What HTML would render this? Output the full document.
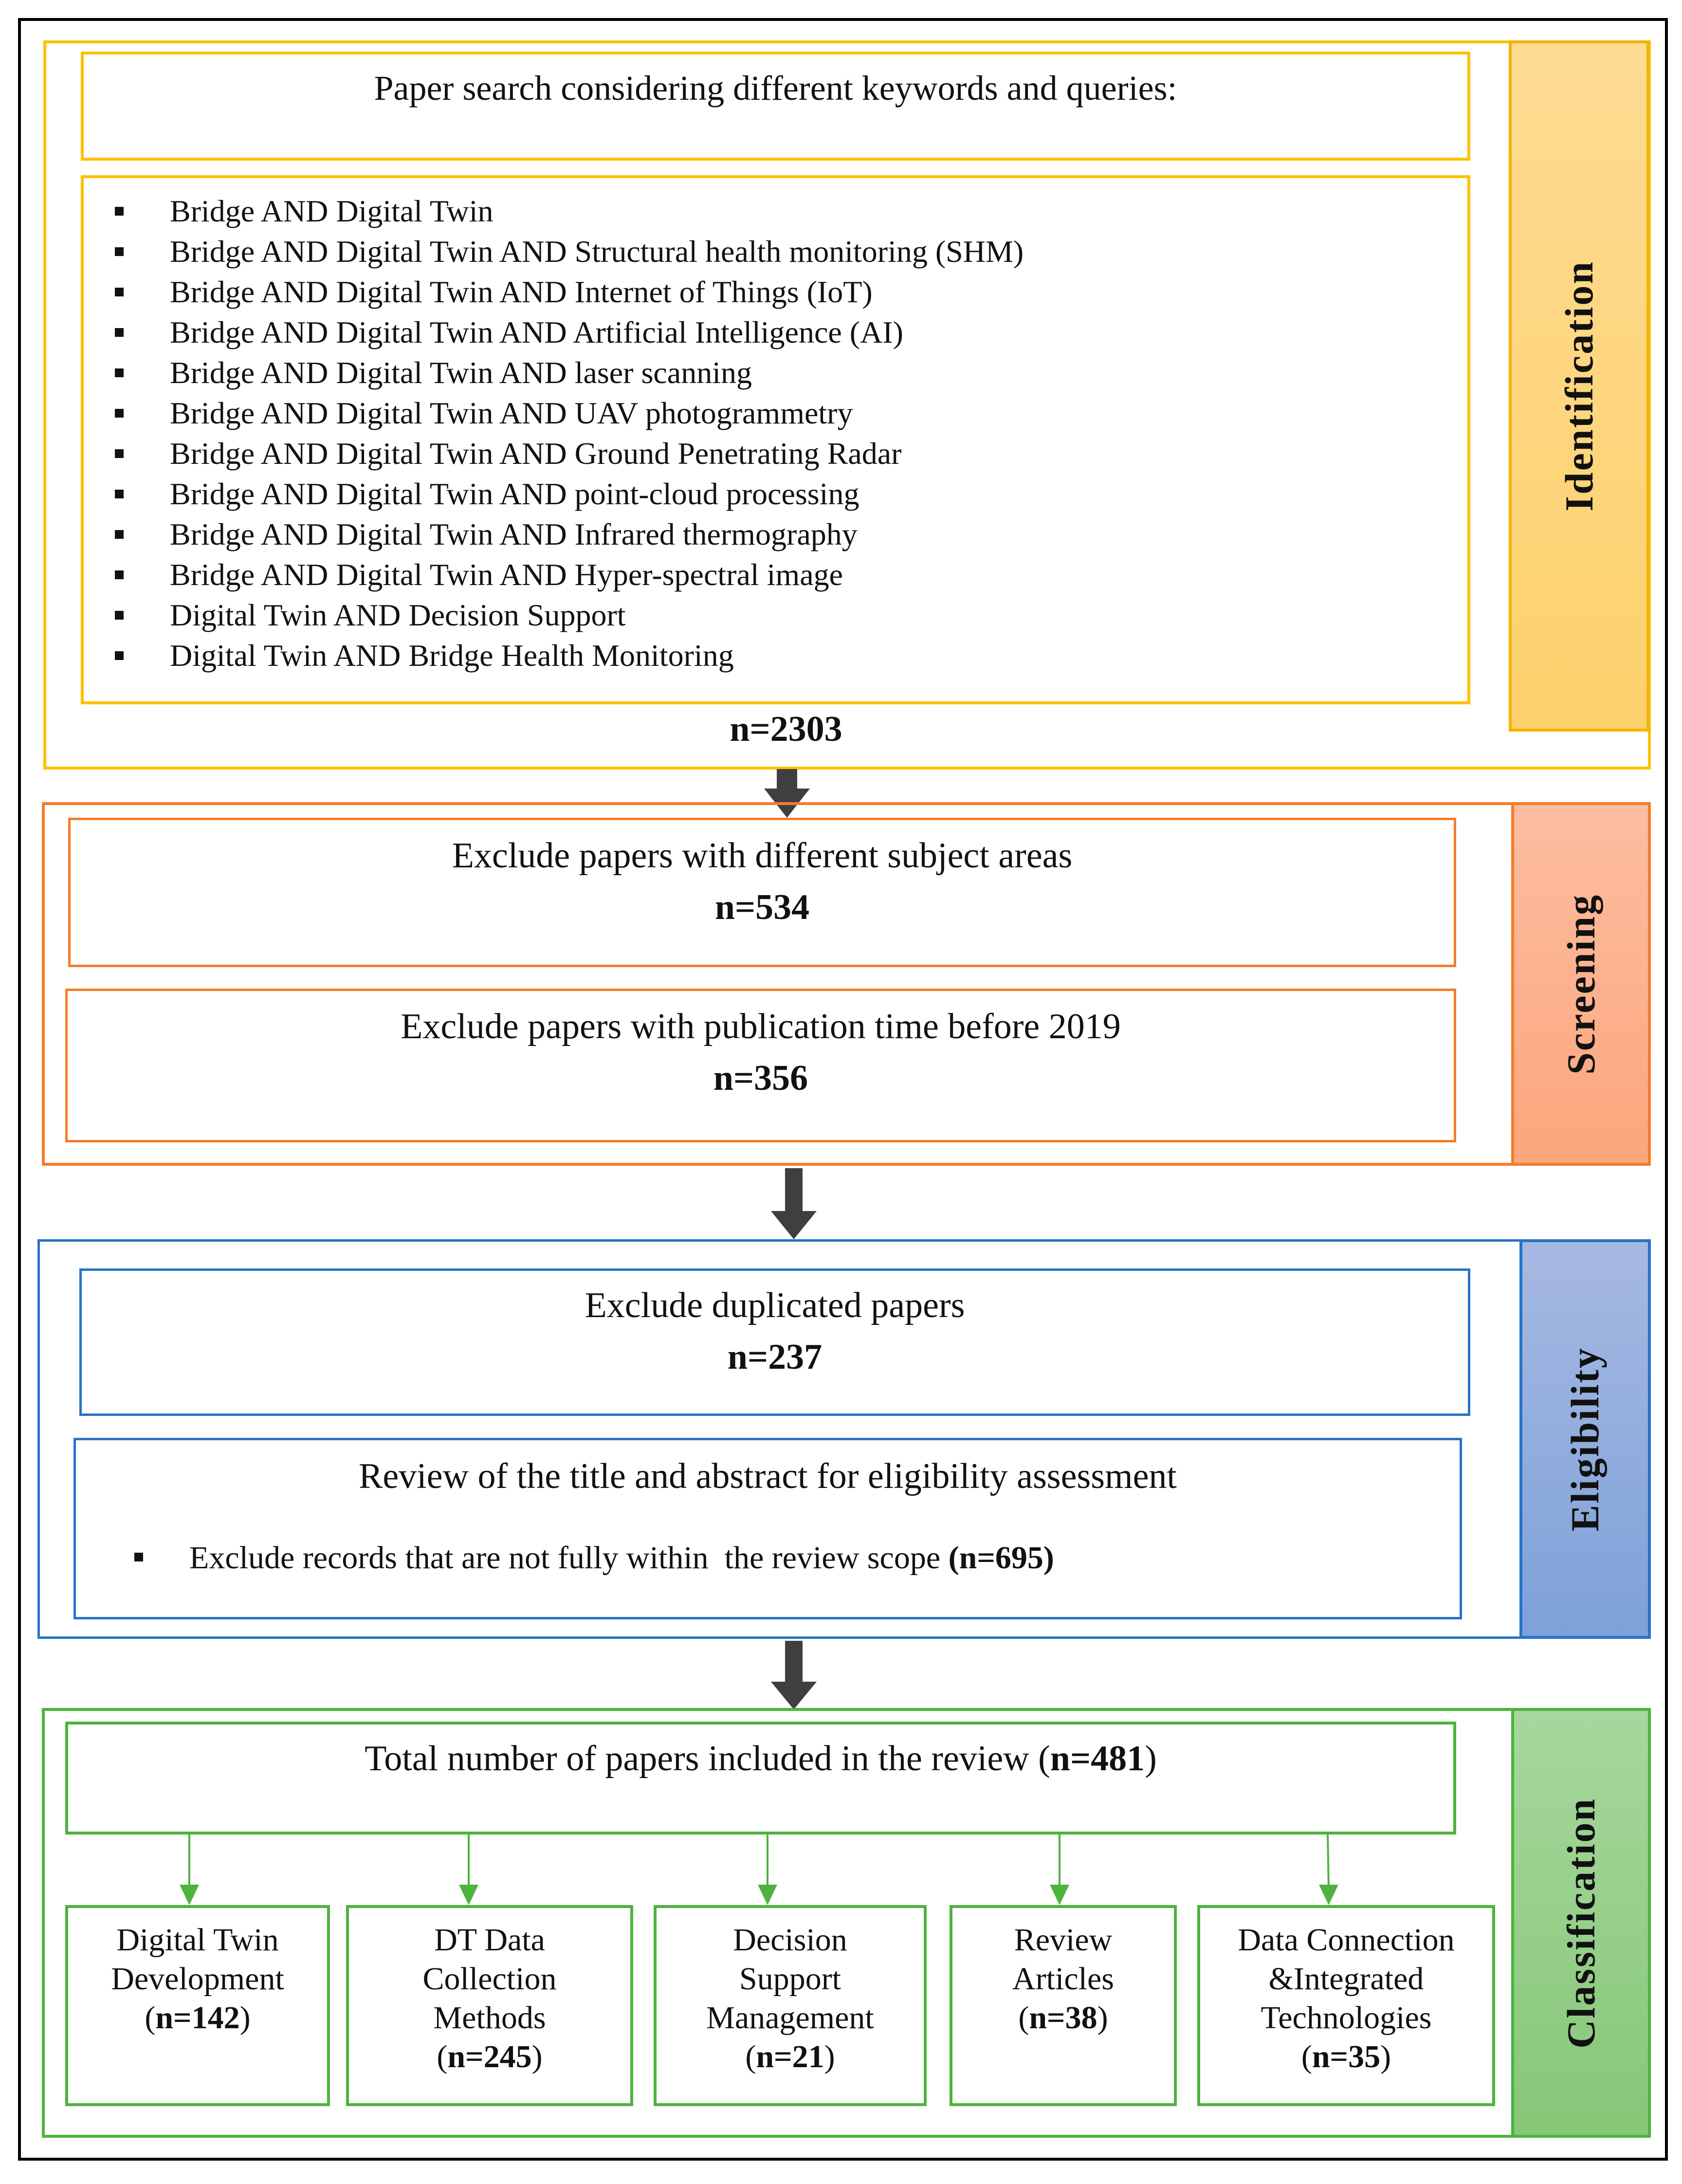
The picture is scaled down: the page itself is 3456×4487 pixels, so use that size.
<!DOCTYPE html>
<html><head><meta charset="utf-8"><style>
body{margin:0;width:3456px;height:4487px;background:#fff;position:relative;overflow:hidden;font-family:"Liberation Serif",serif;color:#111}
div{position:absolute;box-sizing:border-box}
.t{text-align:center;white-space:nowrap}
.side{display:flex;align-items:center;justify-content:center}
.vt{writing-mode:vertical-rl;transform:rotate(180deg);font-weight:bold;font-size:82px;letter-spacing:3px}
.li{left:349px;font-size:64px;white-space:nowrap}
.bu{left:236px;width:18px;height:18px;background:#111}
.h{font-size:74px}
.sb{border:6px solid #4db33d;font-size:66px;line-height:80px;text-align:center;padding-top:26px}
</style></head><body>
<div style="left:37px;top:37px;width:3390px;height:4402px;border:6px solid #000"></div>

<!-- Identification -->
<div style="left:89px;top:83px;width:3303px;height:1498px;border:6px solid #ffc000"></div>
<div class="side" style="left:3100px;top:83px;width:289px;height:1420px;border:6px solid #f4b400;background:linear-gradient(#fedb93,#fdd16c)"><div class="vt">Identification</div></div>
<div style="left:166px;top:106px;width:2855px;height:224px;border:6px solid #ffc000"></div>
<div class="t h" style="left:166px;width:2855px;top:140px;font-size:72px">Paper search considering different keywords and queries:</div>
<div style="left:166px;top:360px;width:2855px;height:1087px;border:6px solid #ffc000"></div>
<div class="bu" style="top:425px"></div><div class="li" style="top:397px">Bridge AND Digital Twin</div>
<div class="bu" style="top:508px"></div><div class="li" style="top:480px">Bridge AND Digital Twin AND Structural health monitoring (SHM)</div>
<div class="bu" style="top:591px"></div><div class="li" style="top:563px">Bridge AND Digital Twin AND Internet of Things (IoT)</div>
<div class="bu" style="top:674px"></div><div class="li" style="top:646px">Bridge AND Digital Twin AND Artificial Intelligence (AI)</div>
<div class="bu" style="top:757px"></div><div class="li" style="top:729px">Bridge AND Digital Twin AND laser scanning</div>
<div class="bu" style="top:840px"></div><div class="li" style="top:812px">Bridge AND Digital Twin AND UAV photogrammetry</div>
<div class="bu" style="top:923px"></div><div class="li" style="top:895px">Bridge AND Digital Twin AND Ground Penetrating Radar</div>
<div class="bu" style="top:1006px"></div><div class="li" style="top:978px">Bridge AND Digital Twin AND point-cloud processing</div>
<div class="bu" style="top:1089px"></div><div class="li" style="top:1061px">Bridge AND Digital Twin AND Infrared thermography</div>
<div class="bu" style="top:1172px"></div><div class="li" style="top:1144px">Bridge AND Digital Twin AND Hyper-spectral image</div>
<div class="bu" style="top:1255px"></div><div class="li" style="top:1227px">Digital Twin AND Decision Support</div>
<div class="bu" style="top:1338px"></div><div class="li" style="top:1310px">Digital Twin AND Bridge Health Monitoring</div>
<div class="t h" style="left:1400px;width:430px;top:1456px;font-weight:bold">n=2303</div>

<!-- arrows -->
<svg style="position:absolute;left:0;top:0" width="3456" height="4487">
<g fill="#3f3f3f">
<polygon points="1596,1580 1638,1580 1638,1620 1664,1620 1617,1680 1570,1620 1596,1620"/>
<polygon points="1613,2400 1649,2400 1649,2488 1678,2488 1631,2546 1584,2488 1613,2488"/>
<polygon points="1613,3371 1649,3371 1649,3455 1678,3455 1631,3512 1584,3455 1613,3455"/>
</g>
<g stroke="#4db33d" stroke-width="4" fill="#4db33d">
<line x1="389" y1="3768" x2="389" y2="3880"/><polygon points="369,3872 409,3872 389,3914" stroke="none"/>
<line x1="963" y1="3768" x2="963" y2="3880"/><polygon points="943,3872 983,3872 963,3914" stroke="none"/>
<line x1="1577" y1="3768" x2="1577" y2="3880"/><polygon points="1557,3872 1597,3872 1577,3914" stroke="none"/>
<line x1="2177" y1="3768" x2="2177" y2="3880"/><polygon points="2157,3872 2197,3872 2177,3914" stroke="none"/>
<line x1="2728" y1="3768" x2="2730" y2="3880"/><polygon points="2710,3872 2750,3872 2730,3914" stroke="none"/>
</g>
</svg>

<!-- Screening -->
<div style="left:86px;top:1648px;width:3306px;height:747px;border:6px solid #f47d2b"></div>
<div class="side" style="left:3105px;top:1648px;width:287px;height:747px;border:6px solid #f47d2b;background:linear-gradient(#fcbda0,#fca67c)"><div class="vt">Screening</div></div>
<div style="left:140px;top:1680px;width:2852px;height:307px;border:5px solid #f47d2b"></div>
<div class="t h" style="left:140px;width:2852px;top:1716px">Exclude papers with different subject areas</div>
<div class="t h" style="left:140px;width:2852px;top:1822px;font-weight:bold">n=534</div>
<div style="left:134px;top:2031px;width:2858px;height:316px;border:5px solid #f47d2b"></div>
<div class="t h" style="left:134px;width:2858px;top:2067px">Exclude papers with publication time before 2019</div>
<div class="t h" style="left:134px;width:2858px;top:2173px;font-weight:bold">n=356</div>

<!-- Eligibility -->
<div style="left:77px;top:2546px;width:3315px;height:821px;border:5px solid #2773c9"></div>
<div class="side" style="left:3122px;top:2546px;width:270px;height:821px;border:6px solid #2773c9;background:linear-gradient(#a6b9e1,#7ea1d9)"><div class="vt">Eligibility</div></div>
<div style="left:163px;top:2606px;width:2858px;height:303px;border:5px solid #2773c9"></div>
<div class="t h" style="left:163px;width:2858px;top:2640px">Exclude duplicated papers</div>
<div class="t h" style="left:163px;width:2858px;top:2746px;font-weight:bold">n=237</div>
<div style="left:151px;top:2954px;width:2853px;height:373px;border:5px solid #2773c9"></div>
<div class="t h" style="left:151px;width:2853px;top:2991px">Review of the title and abstract for eligibility assessment</div>
<div style="left:276px;top:3190px;width:18px;height:18px;background:#111"></div>
<div style="left:389px;top:3163px;font-size:66px;white-space:nowrap">Exclude records that are not fully within&nbsp; the review scope <b>(n=695)</b></div>

<!-- Classification -->
<div style="left:86px;top:3509px;width:3306px;height:883px;border:6px solid #4db33d"></div>
<div class="side" style="left:3105px;top:3509px;width:287px;height:883px;border:6px solid #4db33d;background:linear-gradient(#a7d79d,#86c777)"><div class="vt">Classification</div></div>
<div style="left:134px;top:3537px;width:2858px;height:232px;border:6px solid #4db33d"></div>
<div class="t h" style="left:134px;width:2858px;top:3571px">Total number of papers included in the review (<b>n=481</b>)</div>

<div class="sb" style="left:134px;top:3914px;width:544px;height:413px">Digital Twin<br>Development<br>(<b>n=142</b>)</div>
<div class="sb" style="left:711px;top:3914px;width:590px;height:413px">DT Data<br>Collection<br>Methods<br>(<b>n=245</b>)</div>
<div class="sb" style="left:1343px;top:3914px;width:561px;height:413px">Decision<br>Support<br>Management<br>(<b>n=21</b>)</div>
<div class="sb" style="left:1951px;top:3914px;width:467px;height:413px">Review<br>Articles<br>(<b>n=38</b>)</div>
<div class="sb" style="left:2460px;top:3914px;width:612px;height:413px">Data Connection<br>&amp;Integrated<br>Technologies<br>(<b>n=35</b>)</div>
</body></html>
